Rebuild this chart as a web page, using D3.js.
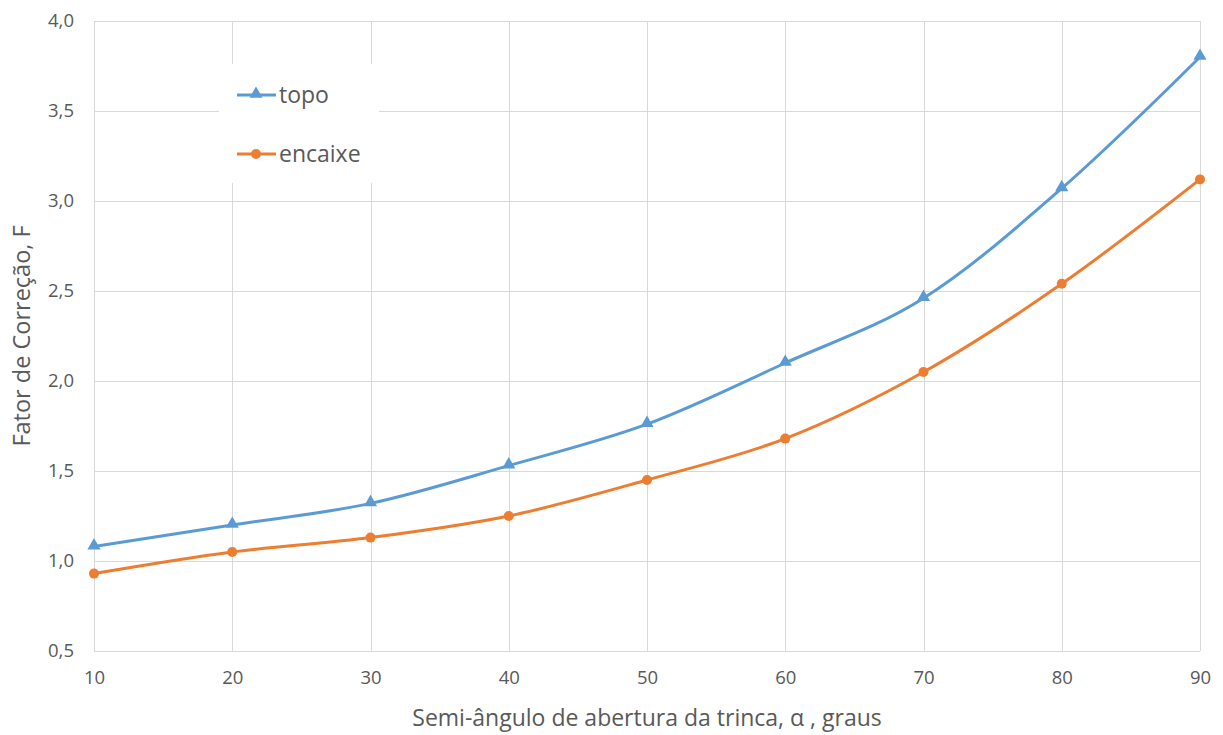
<!DOCTYPE html>
<html>
<head>
<meta charset="utf-8">
<script src="https://cdn.jsdelivr.net/npm/d3@7"></script>
<style>
  html, body { margin: 0; padding: 0; background: #fff; }
  svg { display: block; font-family: "Open Sans", "Liberation Sans", sans-serif; }
</style>
</head>
<body>
<svg id="chart" width="1223" height="735"></svg>
<script>
// Correction factor F versus crack half-opening angle
const angles = [10, 20, 30, 40, 50, 60, 70, 80, 90];
const topoValues = [1.08, 1.20, 1.32, 1.53, 1.76, 2.10, 2.46, 3.07, 3.80];
const encaixeValues = [0.93, 1.05, 1.13, 1.25, 1.45, 1.68, 2.05, 2.54, 3.12];
const xTicks = [10, 20, 30, 40, 50, 60, 70, 80, 90];
const yTicks = [0.5, 1.0, 1.5, 2.0, 2.5, 3.0, 3.5, 4.0];
const seriesNames = ["topo", "encaixe"];
const seriesColors = ["#5B9BD5", "#ED7D31"];

const svg = d3.select("#chart");
const plotLeft = 94, plotRight = 1200, plotTop = 21, plotBottom = 651;

const x = d3.scaleLinear().domain([10, 90]).range([plotLeft, plotRight]);
const y = d3.scaleLinear().domain([0.5, 4.0]).range([plotBottom, plotTop]);
const fmt = v => d3.format(".1f")(v).replace(".", ",");

// grid lines
const grid = svg.append("g").attr("stroke", "#d9d9d9").attr("stroke-width", 1);
grid.selectAll("line.h").data(yTicks).join("line").attr("class", "h")
  .attr("x1", plotLeft).attr("x2", plotRight)
  .attr("y1", d => Math.round(y(d)) + 0.5).attr("y2", d => Math.round(y(d)) + 0.5);
grid.selectAll("line.v").data(xTicks).join("line").attr("class", "v")
  .attr("y1", plotTop).attr("y2", plotBottom)
  .attr("x1", d => Math.round(x(d)) + 0.5).attr("x2", d => Math.round(x(d)) + 0.5);

// axes (labels only, grid already drawn)
const xAxis = svg.append("g").attr("transform", `translate(0,${plotBottom})`)
  .call(d3.axisBottom(x).tickValues(xTicks).tickSize(0).tickPadding(20).tickFormat(d3.format("d")));
const yAxis = svg.append("g").attr("transform", `translate(${plotLeft},0)`)
  .call(d3.axisLeft(y).tickValues(yTicks).tickSize(0).tickPadding(20).tickFormat(fmt));
[xAxis, yAxis].forEach(a => {
  a.select(".domain").remove();
  a.selectAll("text").attr("fill", "#595959").style("font-size", "18.5px")
    .style("font-family", "'Open Sans', sans-serif");
});

// axis titles
svg.append("text")
  .attr("x", (plotLeft + plotRight) / 2).attr("y", 726)
  .attr("text-anchor", "middle").attr("fill", "#595959")
  .style("font-size", "23px")
  .text("Semi-ângulo de abertura da trinca, α , graus");
svg.append("text")
  .attr("transform", `translate(30,${(plotTop + plotBottom) / 2}) rotate(-90)`)
  .attr("text-anchor", "middle").attr("fill", "#595959")
  .style("font-size", "23.5px")
  .text("Fator de Correção, F");

// series
const data = [topoValues, encaixeValues];
const line = d3.line()
  .x((d, i) => x(angles[i]))
  .y(d => y(d))
  .curve(d3.curveCatmullRom.alpha(0));

data.forEach((vals, s) => {
  svg.append("path").datum(vals)
    .attr("d", line).attr("fill", "none")
    .attr("stroke", seriesColors[s]).attr("stroke-width", 3)
    .attr("stroke-linejoin", "round").attr("stroke-linecap", "round");
});

const tri = d3.symbol().type(d3.symbolTriangle).size(75);
svg.append("g").selectAll("path").data(topoValues).join("path")
  .attr("transform", (d, i) => `translate(${x(angles[i])},${y(d) - 1})`)
  .attr("d", tri).attr("fill", seriesColors[0]);
svg.append("g").selectAll("circle").data(encaixeValues).join("circle")
  .attr("cx", (d, i) => x(angles[i])).attr("cy", d => y(d))
  .attr("r", 5).attr("fill", seriesColors[1]);

// legend
const legend = svg.append("g");
legend.append("rect").attr("x", 219).attr("y", 64).attr("width", 160).attr("height", 119).attr("fill", "#fff");
seriesNames.forEach((name, i) => {
  const ly = 95 + i * 59;
  legend.append("line").attr("x1", 237).attr("x2", 276).attr("y1", ly).attr("y2", ly)
    .attr("stroke", seriesColors[i]).attr("stroke-width", 3);
  if (i === 0) {
    legend.append("path").attr("transform", `translate(256,${ly - 1})`)
      .attr("d", tri).attr("fill", seriesColors[i]);
  } else {
    legend.append("circle").attr("cx", 256).attr("cy", ly).attr("r", 5).attr("fill", seriesColors[i]);
  }
  legend.append("text").attr("x", 279).attr("y", ly + 8)
    .attr("fill", "#595959").style("font-size", "23px").text(name);
});
</script>
</body>
</html>
